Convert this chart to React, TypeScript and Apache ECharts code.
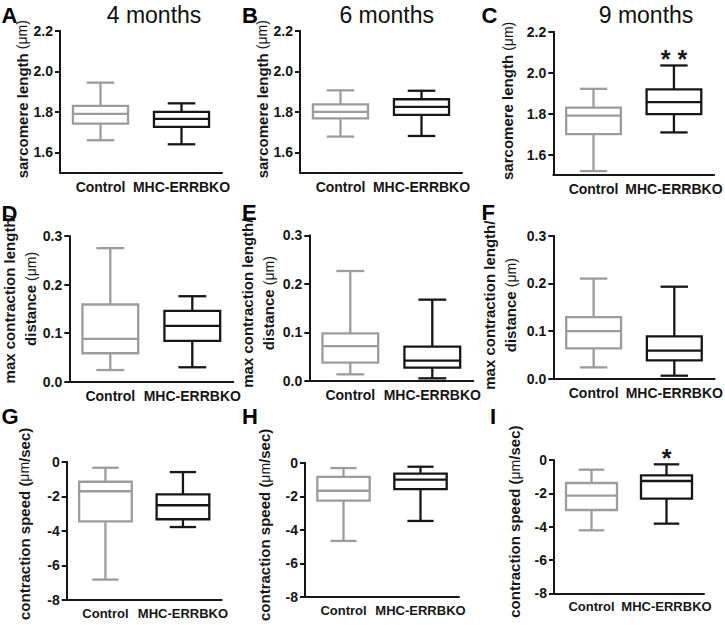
import React, { useEffect, useRef } from "react";
import * as echarts from "echarts";

// ---------- data ----------
const categories = ["Control", "MHC-ERRBKO"];
const panelLetters = ["A", "B", "C", "D", "E", "F", "G", "H", "I"];
const monthTitles = ["4 months", "6 months", "9 months"];

// box stats: [min, Q1, median, Q3, max]
const aControl = [1.66, 1.742, 1.79, 1.829, 1.944];
const aMhc = [1.64, 1.726, 1.765, 1.8, 1.842];
const bControl = [1.678, 1.768, 1.8, 1.837, 1.906];
const bMhc = [1.681, 1.785, 1.824, 1.862, 1.904];
const cControl = [1.519, 1.7, 1.79, 1.829, 1.921];
const cMhc = [1.708, 1.797, 1.856, 1.918, 2.035];

const dControl = [0.024, 0.0586, 0.088, 0.159, 0.275];
const dMhc = [0.0297, 0.084, 0.115, 0.146, 0.176];
const eControl = [0.0137, 0.0377, 0.072, 0.098, 0.2265];
const eMhc = [0.0055, 0.0275, 0.0419, 0.0707, 0.1675];
const fControl = [0.0238, 0.0636, 0.1, 0.129, 0.21];
const fMhc = [0.0063, 0.0385, 0.0587, 0.0888, 0.193];

const gControl = [-6.82, -3.45, -1.71, -1.16, -0.35];
const gMhc = [-3.78, -3.33, -2.52, -1.89, -0.6];
const hControl = [-4.66, -2.26, -1.67, -0.85, -0.32];
const hMhc = [-3.47, -1.57, -1.01, -0.65, -0.24];
const iControl = [-4.22, -3.0, -2.14, -1.38, -0.58];
const iMhc = [-3.82, -2.32, -1.26, -0.92, -0.26];

const significance = ["", "", "**", "", "", "", "", "", "*"];

const sarcomereTicks = [1.6, 1.8, 2.0, 2.2];
const contractionTicks = [0, 0.1, 0.2, 0.3];
const speedTicks = [0, -2, -4, -6, -8];

// ---------- layout / style ----------
const FONT = "Liberation Sans, Arial, Helvetica, sans-serif";
const GRAY = "#9c9c9c";
const BLACK = "#161616";
const TICK_SIZE = 14;
const NAME_SIZE = 15;

const kinds = [
  {
    min: 1.5, max: 2.2, ticks: sarcomereTicks, dec: 1, catSize: 14,
    name: "{b|sarcomere length }{r|(\u03bcm)}",
  },
  {
    min: 0, max: 0.3, ticks: contractionTicks, dec: 1, catSize: 14,
    name: "{b|max contraction length/}\n{b|distance }{r|(\u03bcm)}",
  },
  {
    min: -8, max: 0, ticks: speedTicks, dec: 0, catSize: 13,
    name: "{b|contraction speed (}{r|\u03bcm}{b|/sec)}",
  },
];

const panels = [
  { grid: { left: 60, top: 30.7, width: 162, height: 142 }, kind: 0, gap: 27, pad: 5, data: [aControl, aMhc] },
  { grid: { left: 300, top: 30.7, width: 162, height: 142 }, kind: 0, gap: 27, pad: 5, data: [bControl, bMhc] },
  { grid: { left: 553.3, top: 31.7, width: 163, height: 143.3 }, kind: 0, gap: 35, pad: 5, data: [cControl, cMhc] },
  { grid: { left: 69.3, top: 236, width: 164, height: 145.7 }, kind: 1, gap: 28, pad: 20, data: [dControl, dMhc] },
  { grid: { left: 309.3, top: 235.3, width: 164, height: 145.7 }, kind: 1, gap: 30, pad: 10, data: [eControl, eMhc] },
  { grid: { left: 553.3, top: 235.7, width: 165, height: 143 }, kind: 1, gap: 32, pad: 4, data: [fControl, fMhc] },
  { grid: { left: 66.7, top: 461.7, width: 155, height: 138.3 }, kind: 2, gap: 32, pad: 14, data: [gControl, gMhc] },
  { grid: { left: 305, top: 462.7, width: 154, height: 134.3 }, kind: 2, gap: 30, pad: 10, data: [hControl, hMhc] },
  { grid: { left: 554, top: 460, width: 150, height: 133.3 }, kind: 2, gap: 29, pad: 10, data: [iControl, iMhc] },
];

const letterPos = [
  [1.5, 15], [242, 15], [481.5, 15],
  [1.5, 213.5], [242, 212.5], [481.5, 212.5],
  [1.5, 416.5], [242, 416.5], [490, 416.5],
];
const titlePos = [[154, 15], [386.7, 15], [646, 14.5]];

function buildOption() {
  const grid: any[] = [];
  const xAxis: any[] = [];
  const yAxis: any[] = [];
  const series: any[] = [];

  panels.forEach((p, i) => {
    const k = kinds[p.kind];
    grid.push({ ...p.grid, containLabel: false });
    xAxis.push({
      type: "category",
      gridIndex: i,
      data: categories,
      axisLine: { onZero: false, lineStyle: { color: BLACK, width: 2 } },
      axisTick: { alignWithLabel: true, length: 5, lineStyle: { color: BLACK, width: 2 } },
      axisLabel: {
        color: BLACK, fontFamily: FONT, fontWeight: "bold", fontSize: k.catSize, margin: 7,
        interval: 0,
      },
      splitLine: { show: false },
    });
    yAxis.push({
      type: "value",
      gridIndex: i,
      min: k.min,
      max: k.max,
      axisLine: { show: true, onZero: false, lineStyle: { color: BLACK, width: 2 } },
      axisTick: { show: true, length: 5, customValues: k.ticks, lineStyle: { color: BLACK, width: 2 } },
      axisLabel: {
        color: BLACK, fontFamily: FONT, fontWeight: "bold", fontSize: TICK_SIZE, margin: 7,
        customValues: k.ticks,
        formatter: (v: number) => v.toFixed(k.dec),
      },
      splitLine: { show: false },
      name: k.name,
      nameLocation: "middle",
      nameGap: p.gap,
      nameTextStyle: {
        fontFamily: FONT,
        fontSize: NAME_SIZE,
        fontWeight: "bold",
        color: BLACK,
        padding: [0, 0, 0, p.pad],
        rich: {
          b: { fontFamily: FONT, fontWeight: "bold", fontSize: NAME_SIZE, color: BLACK, lineHeight: 21 },
          r: { fontFamily: FONT, fontWeight: "normal", fontSize: NAME_SIZE - 1, color: BLACK, lineHeight: 21 },
        },
      },
    });
    const sig = significance[i];
    series.push({
      type: "custom",
      xAxisIndex: i,
      yAxisIndex: i,
      encode: { x: 0, y: [1, 2, 3, 4, 5] },
      data: p.data.map((d, ci) => [ci, ...d]),
      renderItem: (params: any, api: any) => {
        const cat = api.value(0);
        const pMin = api.coord([cat, api.value(1)]);
        const pQ1 = api.coord([cat, api.value(2)]);
        const pMed = api.coord([cat, api.value(3)]);
        const pQ3 = api.coord([cat, api.value(4)]);
        const pMax = api.coord([cat, api.value(5)]);
        const band = api.size([1, 0])[0];
        const bw = band * 0.68;
        const cw = band * 0.34;
        const x = pMed[0];
        const color = cat === 0 ? GRAY : BLACK;
        const st = { stroke: color, lineWidth: 2.3, fill: "none" };
        const children: any[] = [
          { type: "line", shape: { x1: x, y1: pMax[1], x2: x, y2: pQ3[1] }, style: st },
          { type: "line", shape: { x1: x, y1: pQ1[1], x2: x, y2: pMin[1] }, style: st },
          { type: "line", shape: { x1: x - cw / 2, y1: pMax[1], x2: x + cw / 2, y2: pMax[1] }, style: st },
          { type: "line", shape: { x1: x - cw / 2, y1: pMin[1], x2: x + cw / 2, y2: pMin[1] }, style: st },
          { type: "rect", shape: { x: x - bw / 2, y: pQ3[1], width: bw, height: pQ1[1] - pQ3[1] }, style: st },
          { type: "line", shape: { x1: x - bw / 2, y1: pMed[1], x2: x + bw / 2, y2: pMed[1] }, style: st },
        ];
        if (cat === 1 && sig) {
          children.push({
            type: "text",
            x: x,
            y: pMax[1] - 6,
            style: {
              text: sig.split("").join(" "),
              fontFamily: FONT,
              fontWeight: "bold",
              fontSize: 25,
              fill: BLACK,
              align: "center",
              verticalAlign: "middle",
            },
          });
        }
        return { type: "group", children };
      },
    });
  });

  const graphic: any[] = [];
  panelLetters.forEach((L, i) => {
    graphic.push({
      type: "text",
      x: letterPos[i][0],
      y: letterPos[i][1],
      style: {
        text: L, fontFamily: FONT, fontWeight: "bold", fontSize: 22, fill: "#000",
        align: "left", verticalAlign: "middle",
      },
    });
  });
  monthTitles.forEach((t, i) => {
    graphic.push({
      type: "text",
      x: titlePos[i][0],
      y: titlePos[i][1],
      style: {
        text: t, fontFamily: FONT, fontWeight: "normal", fontSize: 23, fill: "#111",
        align: "center", verticalAlign: "middle",
      },
    });
  });

  return {
    animation: false,
    backgroundColor: "#ffffff",
    textStyle: { fontFamily: FONT },
    grid,
    xAxis,
    yAxis,
    series,
    graphic,
  };
}

export default function App() {
  const ref = useRef<HTMLDivElement>(null);
  useEffect(() => {
    document.body.style.margin = "0";
    const chart = echarts.init(ref.current as HTMLDivElement, null, { renderer: "svg" });
    chart.setOption(buildOption() as any);
    return () => chart.dispose();
  }, []);
  return <div ref={ref} style={{ width: 725, height: 625, background: "#fff" }} />;
}
